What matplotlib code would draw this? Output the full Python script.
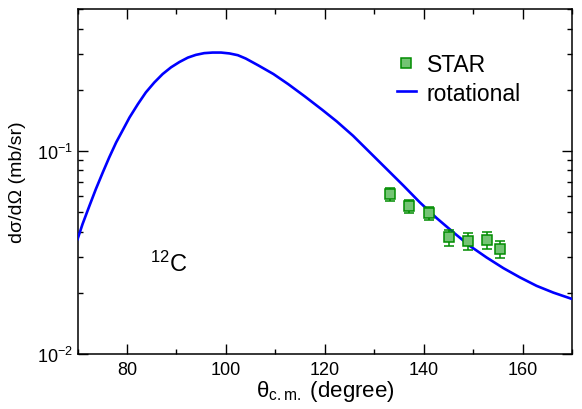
import matplotlib
matplotlib.use('Agg')
import matplotlib.pyplot as plt
import matplotlib.ticker as ticker
from matplotlib.lines import Line2D

plt.rcParams['font.family'] = ['Liberation Sans', 'DejaVu Sans']
plt.rcParams['mathtext.fontset'] = 'custom'
plt.rcParams['mathtext.rm'] = 'Liberation Sans'
plt.rcParams['mathtext.it'] = 'Liberation Sans:italic'
plt.rcParams['mathtext.default'] = 'regular'

# rotational model curve
theta_curve = [70.0, 71.0, 72.4, 73.7, 75.1, 76.4, 77.8, 79.1, 80.5, 82.2, 83.8,
               85.5, 87.2, 88.9, 90.6, 92.3, 93.9, 95.6, 97.3, 99.0, 100.7,
               102.4, 104.0, 106.5, 109.6, 112.6, 116.0, 119.5, 122.4, 125.7,
               129.1, 132.5, 135.9, 139.2, 142.6, 146.0, 149.3, 152.7, 156.1,
               159.4, 162.8, 166.2, 170.0]
xsec_curve = [0.0367, 0.0435, 0.0536, 0.0648, 0.0783, 0.0928, 0.110, 0.126,
              0.146, 0.170, 0.194, 0.217, 0.239, 0.258, 0.274, 0.288, 0.297,
              0.303, 0.305, 0.305, 0.302, 0.296, 0.285, 0.264, 0.239, 0.213,
              0.185, 0.159, 0.1396, 0.1186, 0.0982, 0.0813, 0.0673, 0.0557,
              0.0466, 0.0396, 0.0340, 0.0298, 0.0264, 0.0238, 0.0216, 0.0200,
              0.0186]

# STAR data points
theta_star = [133.2, 137.1, 141.1, 145.0, 148.9, 152.7, 155.5]
xsec_star = [0.0610, 0.0532, 0.0495, 0.0376, 0.0359, 0.0363, 0.0329]
err_lo = [0.0045, 0.0040, 0.0039, 0.0036, 0.0035, 0.0035, 0.0032]
err_hi = [0.0047, 0.0041, 0.0035, 0.0031, 0.0033, 0.0033, 0.0031]

x_major = [80, 100, 120, 140, 160]

star_edge = '#008c00'
star_fill = '#74c474'
curve_color = '#0000ff'

fig = plt.figure(figsize=(5.82, 4.10), dpi=100)
fig.patch.set_facecolor('white')
ax = fig.add_axes([0.1333, 0.1349, 0.8498, 0.8407])

ax.plot(theta_curve, xsec_curve, color=curve_color, lw=1.9, zorder=3)
ax.errorbar(theta_star, xsec_star, yerr=[err_lo, err_hi], fmt='s', ms=6.5,
            mfc=star_fill, mec=star_edge, mew=1.1, ecolor=star_edge,
            elinewidth=1.1, capsize=3.8, capthick=1.1, zorder=4)

ax.set_yscale('log')
ax.set_xlim(70, 170)
ax.set_ylim(0.01, 0.5)

ax.set_xticks(x_major)
ax.xaxis.set_minor_locator(ticker.MultipleLocator(10))
ax.yaxis.set_minor_formatter(ticker.NullFormatter())

ax.tick_params(which='both', direction='in', top=True, right=True, width=1.0,
               labelsize=13)
ax.tick_params(which='major', length=7)
ax.tick_params(which='minor', length=3.6)
ax.tick_params(axis='x', pad=5)
ax.tick_params(axis='y', pad=3)
for sp in ax.spines.values():
    sp.set_linewidth(1.1)

ax.set_xlabel(r'θ$_{\rm c.m.}$ (degree)', fontsize=16, labelpad=0)
ax.set_ylabel('dσ/dΩ (mb/sr)', fontsize=14, labelpad=8)

ax.text(0.147, 0.241, r'$^{12}$C', transform=ax.transAxes, fontsize=17,
        va='baseline', ha='left')

handles = [
    Line2D([], [], ls='none', marker='s', ms=6.5, mfc=star_fill, mec=star_edge, mew=1.1),
    Line2D([], [], color=curve_color, lw=1.9),
]
ax.legend(handles, ['STAR', 'rotational'], loc='upper left',
          bbox_to_anchor=(0.645, 0.871), frameon=False, fontsize=16.5,
          borderaxespad=0, borderpad=0, handlelength=0.84,
          handletextpad=0.48, labelspacing=0.22)

fig.savefig('out.png', dpi=100)
